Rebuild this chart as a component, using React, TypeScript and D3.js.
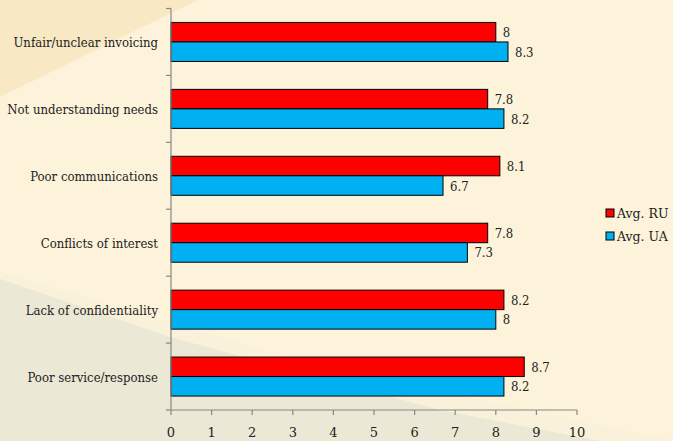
import React from "react";
import * as d3 from "d3";

const categories = [
  "Unfair/unclear invoicing",
  "Not understanding needs",
  "Poor communications",
  "Conflicts of interest",
  "Lack of confidentiality",
  "Poor service/response",
];
const seriesNames = ["Avg. RU", "Avg. UA"];
const avgRU = [8, 7.8, 8.1, 7.8, 8.2, 8.7];
const avgUA = [8.3, 8.2, 6.7, 7.3, 8, 8.2];
const xTicks = [0, 1, 2, 3, 4, 5, 6, 7, 8, 9, 10];
const colors = ["#FF0000", "#00B0F0"];

const W = 673;
const H = 441;
const FONT = "'DejaVu Serif Condensed'";
const FONT2 = "'DejaVu Serif'";

export default function App() {
  const x = d3.scaleLinear().domain([0, 10]).range([171, 577]);
  const y = d3.scaleBand<string>().domain(categories).range([8.5, 410]).paddingInner(0).paddingOuter(0);
  const inner = d3.scaleBand<string>().domain(seriesNames).range([0, 39]);
  const series = [avgRU, avgUA];
  const bw = y.bandwidth();
  const barOffset = (bw - 39) / 2;

  return (
    <svg width={W} height={H} style={{ position: "absolute", left: 0, top: 0 }}>
      <rect x={0} y={0} width={W} height={H} fill="#FCF3DA" />
      <polygon points="0,0 198,0 0,97" fill="#F8E8C3" />
      <polygon points="0,272 300,362 673,441 0,441" fill="#F5EFD8" opacity={0.5} />
      <polygon points="0,279 170,337 440,410 600,441 0,441" fill="#EBE8D5" />
      {categories.map((c, i) =>
        series.map((vals, s) => (
          <rect
            key={c + s}
            x={x(0)}
            y={(y(c) as number) + barOffset + (inner(seriesNames[s]) as number)}
            width={x(vals[i]) - x(0)}
            height={inner.bandwidth()}
            fill={colors[s]}
            stroke="#000"
            strokeWidth={1}
          />
        ))
      )}
      {categories.map((c, i) =>
        series.map((vals, s) => (
          <text
            key={"t" + c + s}
            x={x(vals[i]) + 7}
            y={(y(c) as number) + barOffset + (inner(seriesNames[s]) as number) + inner.bandwidth() / 2 + 5}
            style={{ fontFamily: FONT2, fontStretch: "condensed" }}
            fontSize={13}
            fill="#222"
          >
            {vals[i]}
          </text>
        ))
      )}
      {/* y axis */}
      <line x1={x(0)} x2={x(0)} y1={8.5} y2={410} stroke="#888" strokeWidth={1.2} />
      {y.domain().map((c) => (
        <line key={"yt" + c} x1={x(0) - 5} x2={x(0)} y1={y(c) as number} y2={y(c) as number} stroke="#888" strokeWidth={1.2} />
      ))}
      <line x1={x(0) - 5} x2={x(0)} y1={410} y2={410} stroke="#888" strokeWidth={1.2} />
      {categories.map((c) => (
        <text
          key={"yl" + c}
          x={158}
          y={(y(c) as number) + bw / 2 + 5}
          textAnchor="end"
          style={{ fontFamily: FONT }}
          fontSize={13}
          fill="#222"
        >
          {c}
        </text>
      ))}
      {/* x axis */}
      <line x1={x(0)} x2={x(10)} y1={410} y2={410} stroke="#888" strokeWidth={1.2} />
      {xTicks.map((t) => (
        <g key={"xt" + t}>
          <line x1={x(t)} x2={x(t)} y1={410} y2={415} stroke="#888" strokeWidth={1.2} />
          <text x={x(t)} y={437} textAnchor="middle" style={{ fontFamily: FONT2 }} fontSize={13} fill="#222">
            {t}
          </text>
        </g>
      ))}
      {/* legend */}
      {seriesNames.map((n, s) => (
        <g key={"lg" + n} transform={`translate(606, ${209 + s * 23})`}>
          <rect x={0} y={0} width={8} height={8} fill={colors[s]} stroke="#000" strokeWidth={1} />
          <text x={11} y={8.5} style={{ fontFamily: FONT2 }} fontSize={12.5} fill="#222">
            {n}
          </text>
        </g>
      ))}
    </svg>
  );
}
